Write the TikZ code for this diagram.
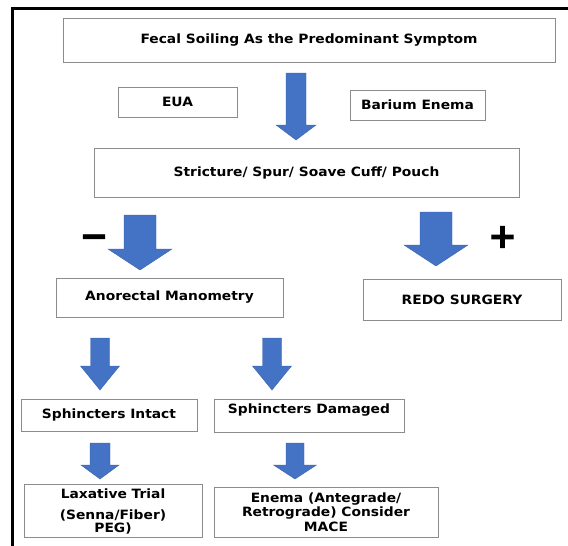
\documentclass[tikz,border=0pt]{standalone}
\usepackage{fontspec}
\setsansfont[FakeStretch=1.08]{DejaVu Sans}
\newfontfamily\signfont[FakeBold=2.5]{DejaVu Sans}
\usepackage{tikz}
\definecolor{arrowblue}{HTML}{4472C4}
\definecolor{arrowedge}{HTML}{3B63AD}
\definecolor{boxgray}{HTML}{8C8C8C}

% block arrow pointing down: x, top, head start, tip, shaft half width, head half width
\newcommand{\downblock}[6]{%
	\filldraw[blockarrow] ({#1-#5},#2) -- ({#1+#5},#2) -- ({#1+#5},#3) -- ({#1+#6},#3)
	-- (#1,#4) -- ({#1-#6},#3) -- ({#1-#5},#3) -- cycle;}

\begin{document}
\begin{tikzpicture}[x=1pt,y=-1pt,
	box/.style={draw=boxgray, line width=0.8pt, inner sep=0pt, align=center,
		font=\sffamily\bfseries\fontsize{12.8}{14}\selectfont},
	blockarrow/.style={fill=arrowblue, draw=arrowedge, line width=0.4pt},
	sign/.style={inner sep=0pt, font=\signfont\bfseries\fontsize{34}{34}\selectfont}]
	
	\useasboundingbox (0,0) rectangle (568,546);
	\draw[line width=3pt] (12,546) -- (12,8) -- (568,8);
	
	\node[box, minimum width=492pt, minimum height=44pt] (soil) at (309,40) {Fecal Soiling As the Predominant Symptom};
	\node[box, minimum width=119pt, minimum height=30pt] (eua) at (177.5,102) {EUA};
	\node[box, minimum width=135pt, minimum height=30pt] (barium) at (417.5,105) {Barium Enema};
	\node[box, minimum width=425pt, minimum height=49pt] (stricture) at (306.5,172.5) {Stricture/ Spur/ Soave Cuff/ Pouch};
	\node[box, minimum width=227pt, minimum height=39pt] (manometry) at (169.5,297.5) {Anorectal Manometry};
	\node[box, minimum width=198pt, minimum height=41pt] (redo) at (462,299.5) {REDO SURGERY};
	\node[box, minimum width=176pt, minimum height=32pt] (intact) at (109,415) {Sphincters Intact};
	\node[box, minimum width=190pt, minimum height=33pt, text depth=14.5pt] (damaged) at (309,415.5) {Sphincters Damaged};
	\node[box, minimum width=178pt, minimum height=53pt, font=\sffamily\bfseries\fontsize{12.8}{12.5}\selectfont] (laxative) at (113,511) {Laxative Trial\\[9pt](Senna/Fiber)\\PEG)};
	\node[box, minimum width=224pt, minimum height=50pt, font=\sffamily\bfseries\fontsize{12.8}{14.5}\selectfont] (enema) at (326,512) {Enema (Antegrade/\\Retrograde) Consider\\MACE};
	
	\node[sign] (neg) at (94,241) {−};
	\node[sign] (pos) at (502.5,237) {+};
	
	\downblock{296}{73}{125}{140}{10}{20}
	\downblock{140}{215}{249}{270}{16}{32}
	\downblock{436}{212}{245}{266}{16}{32}
	\downblock{100}{338}{366}{390}{9.5}{19.5}
	\downblock{272}{338}{366}{390}{9.5}{19.5}
	\downblock{100}{443}{465}{479}{10}{19}
	\downblock{295}{443}{465}{479}{9}{21.5}
	
\end{tikzpicture}
\end{document}
